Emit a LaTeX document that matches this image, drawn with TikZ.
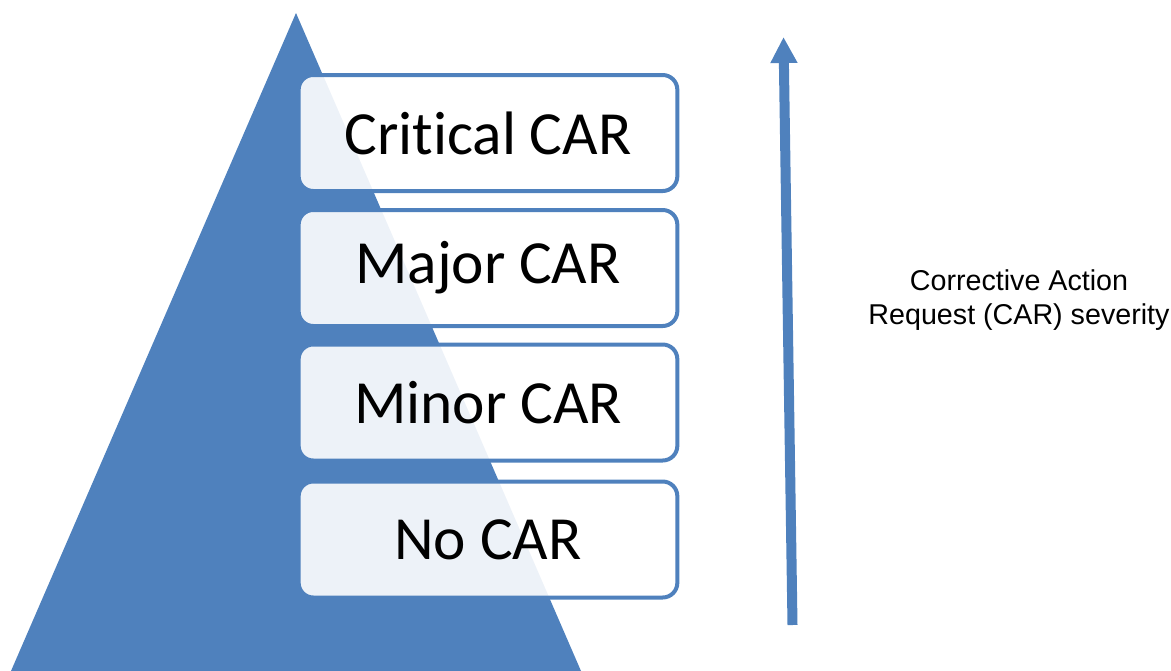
\documentclass[tikz,border=0pt]{standalone}
\usepackage{fontspec}
\setmainfont{Carlito}[Ligatures=NoCommon]
\newfontfamily\arialfont{Liberation Sans}
\usetikzlibrary{arrows.meta}
\definecolor{carblue}{HTML}{4F81BD}
\tikzset{
  carbox/.style={draw=carblue, line width=3pt, rounded corners=11pt,
    fill=white, fill opacity=0.9, text opacity=1,
    minimum width=284pt, minimum height=87pt, inner sep=0pt,
    font=\fontsize{46}{54}\selectfont},
  severity/.style={carblue, line width=7.5pt, -{Triangle[width=19pt,length=19.5pt]}},
  lbl/.style={align=center, font=\arialfont\fontsize{21.5}{25}\selectfont}
}
\begin{document}
\begin{tikzpicture}[x=0.75pt,y=-0.75pt]
\useasboundingbox (0,0) rectangle (1171,671);
\fill[carblue] (296,13) -- (581,671) -- (11,671) -- cycle;
\node[carbox] (b1) at (488,133) {Critical CAR};
\node[carbox] (b2) at (488,268) {Major CAR};
\node[carbox] (b3) at (488,402.5) {Minor CAR};
\node[carbox] (b4) at (488,539.5) {No CAR};
\coordinate (atail) at (792.5,625);
\coordinate (ahead) at (783.5,37);
\draw[severity] (atail) -- (ahead);
\node[lbl] (label) at (1019,300) {Corrective Action\\Request (CAR) severity};
\end{tikzpicture}
\end{document}
